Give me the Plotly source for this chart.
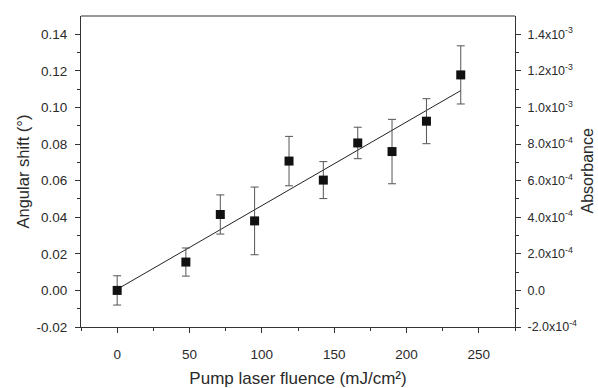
import numpy as np
import plotly.graph_objects as go

fluence = [0, 47.5, 71.3, 95, 118.8, 142.5, 166.3, 190, 213.8, 237.5]
shift = [0.0, 0.0155, 0.0415, 0.038, 0.0707, 0.0603, 0.0806, 0.0759, 0.0925, 0.1178]
err = [0.008, 0.0077, 0.0107, 0.0185, 0.0135, 0.0101, 0.0086, 0.0176, 0.0123, 0.0159]

left_ticks = [-0.02, 0.0, 0.02, 0.04, 0.06, 0.08, 0.10, 0.12, 0.14]
left_labels = ["-0.02", "0.00", "0.02", "0.04", "0.06", "0.08", "0.10", "0.12", "0.14"]
right_ticks = [-2e-4, 0.0, 2e-4, 4e-4, 6e-4, 8e-4, 1.0e-3, 1.2e-3, 1.4e-3]
right_labels = ["-2.0x10<sup>-4</sup>", "0.0", "2.0x10<sup>-4</sup>", "4.0x10<sup>-4</sup>",
                "6.0x10<sup>-4</sup>", "8.0x10<sup>-4</sup>", "1.0x10<sup>-3</sup>",
                "1.2x10<sup>-3</sup>", "1.4x10<sup>-3</sup>"]
x_ticks = [0, 50, 100, 150, 200, 250]

slope, intercept = np.polyfit(fluence, shift, 1)
fit_x = [fluence[0], fluence[-1]]
fit_y = [intercept + slope * v for v in fit_x]

FONT = "Liberation Sans, Arial, sans-serif"
TXT = "#2a2a2a"
fig = go.Figure()
fig.add_trace(go.Scatter(x=fit_x, y=fit_y, mode="lines",
                         line=dict(color="#222222", width=1), showlegend=False))
fig.add_trace(go.Scatter(x=fluence, y=shift, mode="markers",
                         marker=dict(symbol="square", size=9, color="#111111"),
                         error_y=dict(type="data", array=err, visible=True,
                                      color="#555555", thickness=1, width=4),
                         showlegend=False))
fig.add_trace(go.Scatter(x=[fluence[0]], y=[0], yaxis="y2", mode="markers",
                         marker=dict(opacity=0), showlegend=False, hoverinfo="skip"))

axis_common = dict(showline=True, linecolor="#333333", linewidth=1, mirror=False,
                   ticks="outside", ticklen=5, tickwidth=1, tickcolor="#333333",
                   showgrid=False, zeroline=False, automargin=False)
minor = dict(ticks="outside", ticklen=3, tickwidth=1, tickcolor="#333333", showgrid=False)

fig.update_layout(
    width=598, height=388,
    margin=dict(l=81, r=83, t=16, b=61),
    paper_bgcolor="white", plot_bgcolor="white",
    xaxis=dict(range=[-25, 275], tickvals=x_ticks, ticklabelstandoff=10,
               tickfont=dict(family=FONT, size=13.5, color=TXT),
               title=dict(text="Pump laser fluence (mJ/cm²)",
                          font=dict(family=FONT, size=17, color=TXT)),
               minor=dict(dtick=25, **minor), **axis_common),
    yaxis=dict(range=[-0.02, 0.15], tickvals=left_ticks, ticktext=left_labels,
               ticklabelstandoff=5,
               tickfont=dict(family=FONT, size=13.5, color=TXT),
               minor=dict(tickvals=[-0.01, 0.01, 0.03, 0.05, 0.07, 0.09, 0.11, 0.13], **minor),
               **axis_common),
    yaxis2=dict(range=[-2e-4, 1.5e-3], overlaying="y", side="right",
                tickvals=right_ticks, ticktext=right_labels, ticklabelstandoff=4,
                tickfont=dict(family=FONT, size=12.5, color=TXT),
                minor=dict(tickvals=[-1e-4, 1e-4, 3e-4, 5e-4, 7e-4, 9e-4, 1.1e-3, 1.3e-3], **minor),
                **axis_common),
    annotations=[dict(text="Angular shift (°)", xref="paper", yref="paper",
                      x=(22 - 81) / 434, y=0.5, xanchor="center", yanchor="middle",
                      textangle=-90, showarrow=False,
                      font=dict(family=FONT, size=16.5, color=TXT)),
                 dict(text="Absorbance", xref="paper", yref="paper",
                      x=(587 - 81) / 434, y=0.5, xanchor="center", yanchor="middle",
                      textangle=-90, showarrow=False,
                      font=dict(family=FONT, size=16, color=TXT))],
    shapes=[dict(type="line", xref="paper", yref="paper", x0=0, x1=1, y0=1, y1=1,
                 line=dict(color="#333333", width=1))],
)

fig.write_html("out.html")
